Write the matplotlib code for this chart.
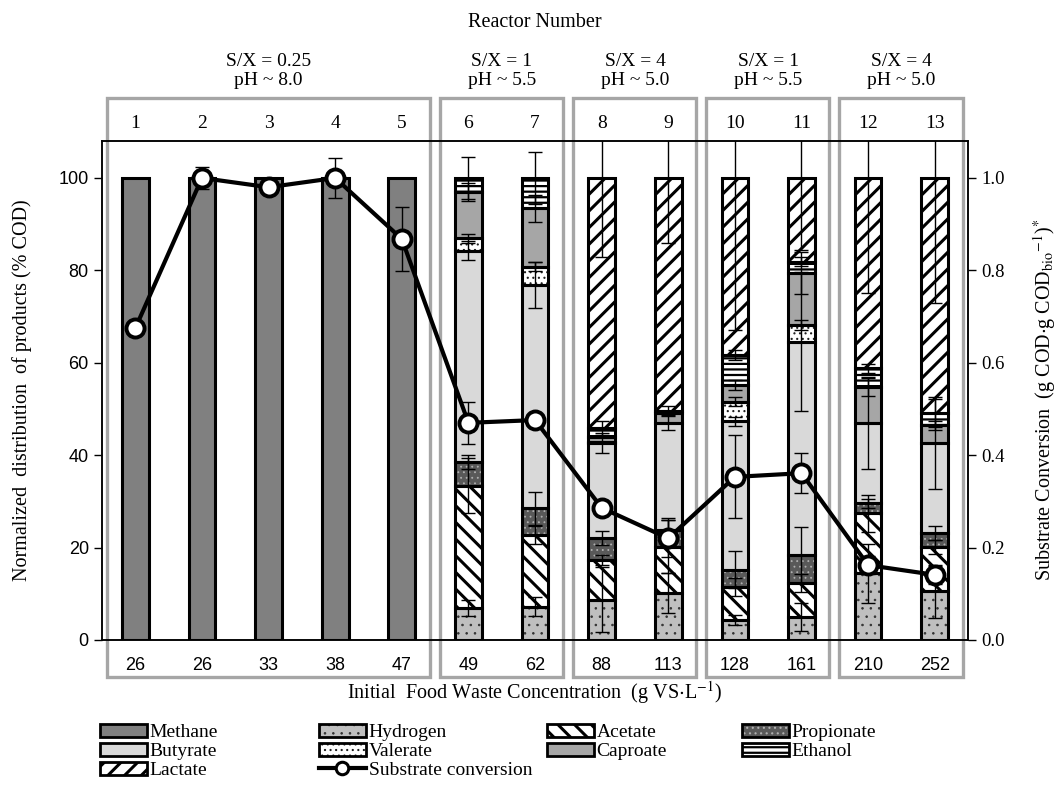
import numpy as np
import matplotlib
matplotlib.use('Agg')
import matplotlib.pyplot as plt
import matplotlib.transforms as mtransforms
from matplotlib.patches import Patch, Rectangle
from matplotlib.lines import Line2D

plt.rcParams['font.family'] = 'Liberation Serif'
plt.rcParams['mathtext.fontset'] = 'stix'

# ---- data ----
reactors = [str(i) for i in range(1, 14)]
food_waste = [26, 26, 33, 38, 47, 49, 62, 88, 113, 128, 161, 210, 252]
groups = [(0, 4, 'S/X = 0.25\npH ~ 8.0'),
          (5, 6, 'S/X = 1\npH ~ 5.5'),
          (7, 8, 'S/X = 4\npH ~ 5.0'),
          (9, 10, 'S/X = 1\npH ~ 5.5'),
          (11, 12, 'S/X = 4\npH ~ 5.0')]

methane    = [100, 100, 100, 100, 100, 0, 0, 0, 0, 0, 0, 0, 0]
hydrogen   = [0, 0, 0, 0, 0, 6.9, 7.2, 8.7, 10.1, 4.3, 5.0, 14.4, 10.5]
acetate    = [0, 0, 0, 0, 0, 26.5, 15.5, 8.6, 10.1, 7.2, 7.3, 13.0, 9.7]
propionate = [0, 0, 0, 0, 0, 5.1, 5.8, 4.7, 3.6, 3.7, 6.1, 2.2, 2.9]
butyrate   = [0, 0, 0, 0, 0, 45.8, 48.3, 20.6, 23.1, 32.1, 46.2, 17.3, 19.5]
valerate   = [0, 0, 0, 0, 0, 2.6, 4.0, 0.3, 0.0, 4.3, 3.6, 0.0, 0.0]
caproate   = [0, 0, 0, 0, 0, 10.1, 12.6, 1.0, 2.2, 3.6, 11.2, 7.9, 3.9]
ethanol    = [0, 0, 0, 0, 0, 3.0, 6.6, 2.0, 0.5, 6.5, 2.5, 4.0, 2.6]
lactate    = [0, 0, 0, 0, 0, 0, 0, 54.1, 50.4, 38.3, 18.1, 41.2, 50.9]

err_methane    = [0, 0, 0, 0, 0, 0, 0, 0, 0, 0, 0, 0, 0]
err_hydrogen   = [0, 0, 0, 0, 0, 1.7, 2.0, 7.0, 4.3, 1.0, 3.0, 6.4, 5.8]
err_acetate    = [0, 0, 0, 0, 0, 6.0, 2.0, 1.0, 5.7, 2.0, 2.0, 4.0, 1.5]
err_propionate = [0, 0, 0, 0, 0, 1.5, 3.6, 1.5, 2.6, 4.0, 6.0, 1.0, 1.5]
err_butyrate   = [0, 0, 0, 0, 0, 2.0, 5.0, 2.2, 1.5, 1.0, 15.0, 10.0, 10.0]
err_valerate   = [0, 0, 0, 0, 0, 1.0, 1.0, 0, 0, 1.0, 1.0, 0, 0]
err_caproate   = [0, 0, 0, 0, 0, 2.0, 3.0, 0, 0, 1.0, 4.5, 2.0, 1.0]
err_ethanol    = [0, 0, 0, 0, 0, 4.5, 5.6, 1.5, 1.0, 1.0, 1.0, 1.0, 3.0]
err_lactate    = [0, 0, 0, 0, 0, 0, 0, 17, 14, 33, 15.6, 25, 27]

conversion     = [0.675, 1.0, 0.98, 1.0, 0.868, 0.47, 0.476, 0.286, 0.22, 0.353, 0.361, 0.162, 0.141]
err_conversion = [0, 0.024, 0.015, 0.043, 0.07, 0.045, 0, 0, 0.04, 0.09, 0.043, 0.02, 0.02]

# name, values, errors, face, hatch, hatch colour, hatch linewidth
components = [
    ('Methane', methane, err_methane, '#808080', None, 'black', 1.0),
    ('Hydrogen', hydrogen, err_hydrogen, '#bfbfbf', '..', '#303030', 0.6),
    ('Acetate', acetate, err_acetate, 'white', '\\\\', 'black', 2.2),
    ('Propionate', propionate, err_propionate, '#595959', '...', '#b0b0b0', 0.6),
    ('Butyrate', butyrate, err_butyrate, '#d9d9d9', None, 'black', 1.0),
    ('Valerate', valerate, err_valerate, 'white', '...', '#202020', 0.8),
    ('Caproate', caproate, err_caproate, '#a6a6a6', None, 'black', 1.0),
    ('Ethanol', ethanol, err_ethanol, 'white', '---', 'black', 1.6),
    ('Lactate', lactate, err_lactate, 'white', '//', 'black', 2.2),
]
hatch_lw = {c[4]: c[6] for c in components if c[4]}

fig = plt.figure(figsize=(10.64, 7.9), dpi=100)
ax = fig.add_axes([0.0959, 0.1899, 0.8139, 0.6316])

x = np.arange(len(reactors))
width = 0.4
bottom = np.zeros(len(reactors))
handles = {}
for name, vals, errs, face, hatch, hcol, hlw in components:
    vals = np.array(vals, dtype=float)
    errs = np.array(errs, dtype=float)
    m = vals > 0
    with plt.rc_context({'hatch.linewidth': hlw}):
        bars = ax.bar(x[m], vals[m], width, bottom=bottom[m], color=face,
                      edgecolor=hcol, hatch=hatch, linewidth=0, zorder=2)
        hp = Patch(facecolor=face, edgecolor=hcol, hatch=hatch, linewidth=0)
    for b in bars:
        if hasattr(b, 'set_hatch_linewidth'):
            b.set_hatch_linewidth(hlw)
    ax.bar(x[m], vals[m], width, bottom=bottom[m], fill=False,
           edgecolor='black', linewidth=2.2, zorder=3)
    top = bottom + vals
    me = m & (errs > 0)
    ax.errorbar(x[me], top[me], yerr=errs[me], fmt='none', ecolor='black',
                elinewidth=1, capsize=5, capthick=1, zorder=4)
    bottom = top
    handles[name] = (hp, Patch(fill=False, edgecolor='black', linewidth=2))

ax.set_xlim(-0.5, len(reactors) - 0.5)
ax.set_ylim(0, 108)
ax.set_yticks([0, 20, 40, 60, 80, 100])
ax.set_xticks(x)
ax.set_xticklabels(food_waste, family='Liberation Sans', fontsize=13)
ax.tick_params(axis='x', length=0, pad=12)
ax.tick_params(axis='y', direction='out', length=6, width=1)
for lab in ax.get_yticklabels():
    lab.set_family('Liberation Sans')
    lab.set_fontsize(13)
for sp in ax.spines.values():
    sp.set_linewidth(1.1)

ax2 = ax.twinx()
ax2.set_ylim(0, 1.08)
ax2.set_yticks([0, 0.2, 0.4, 0.6, 0.8, 1.0])
ax2.set_yticklabels(['%.1f' % v for v in [0, 0.2, 0.4, 0.6, 0.8, 1.0]], fontsize=13.5)
ax2.tick_params(axis='y', direction='out', length=6, width=1)
ax2.errorbar(x, conversion, yerr=err_conversion, fmt='none', ecolor='black',
             elinewidth=1, capsize=5, capthick=1, zorder=5)
ax2.plot(x, conversion, '-o', color='black', lw=3, ms=13, mfc='white',
         mec='black', mew=2.8, zorder=6)
for sp in ax2.spines.values():
    sp.set_linewidth(1.1)

# group boxes, reactor numbers and group labels
trans = mtransforms.blended_transform_factory(ax.transData, ax.transAxes)
for first, last, label in groups:
    left = first - 0.43
    right = last + 0.42
    ax.add_patch(Rectangle((left, -0.074), right - left, 1.16, transform=trans,
                           fill=False, edgecolor='#a6a6a6', linewidth=2.4,
                           clip_on=False, zorder=1))
    ax.text((first + last) / 2, 1.14, label, transform=trans, ha='center',
            va='center', fontsize=14, linespacing=1.2)
for xi, r in zip(x, reactors):
    ax.text(xi, 1.036, r, transform=trans, ha='center', va='center', fontsize=14)

ax.text(0.5, 1.238, 'Reactor Number', transform=ax.transAxes, ha='center',
        va='center', fontsize=14.5)

fig.text(22 / 1064, 1 - 390 / 790, 'Normalized  distribution  of products (% COD)',
         rotation=90, ha='center', va='center', fontsize=14.5)
fig.text(1045 / 1064, 1 - 400 / 790,
         r'Substrate Conversion  (g COD$\cdot$g COD$_{\mathrm{bio}}$$^{\mathrm{-1}}$)$^{*}$',
         rotation=90, ha='center', va='center', fontsize=14.5)
fig.text(535 / 1064, 1 - 693 / 790,
         r'Initial  Food Waste Concentration  (g VS$\cdot$L$^{\mathrm{-1}}$)',
         ha='center', va='center', fontsize=14.5)

# legend, four columns filled row by row
conv_handle = Line2D([], [], color='black', lw=3, marker='o', ms=9,
                     mfc='white', mec='black', mew=2.2)
columns = [
    (100, ['Methane', 'Butyrate', 'Lactate']),
    (319, ['Hydrogen', 'Valerate', 'Substrate conversion']),
    (547, ['Acetate', 'Caproate']),
    (742, ['Propionate', 'Ethanol']),
]
for xpix, names in columns:
    hs = [conv_handle if n == 'Substrate conversion' else handles[n] for n in names]
    leg = fig.legend(hs, names, loc='upper left',
                     bbox_to_anchor=(xpix / 1064, 1 - 724 / 790),
                     frameon=False, fontsize=14, borderpad=0, borderaxespad=0,
                     handlelength=2.4, handleheight=0.65, handletextpad=0.15,
                     labelspacing=0.08)
    for r in leg.findobj(Rectangle):
        h = r.get_hatch()
        if h in hatch_lw and hasattr(r, 'set_hatch_linewidth'):
            r.set_hatch_linewidth(hatch_lw[h])

fig.savefig('out.png', dpi=100)
